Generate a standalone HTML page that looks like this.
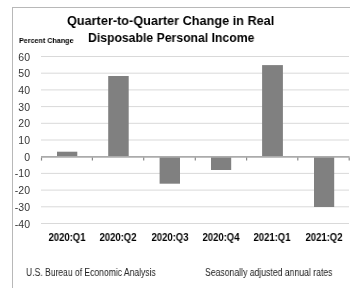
<!DOCTYPE html>
<html><head><meta charset="utf-8">
<style>
html,body{margin:0;padding:0;background:#fff;width:363px;height:304px;overflow:hidden;position:relative;font-family:"Liberation Sans",sans-serif;}
.t{position:absolute;white-space:nowrap;line-height:1;will-change:transform;transform-origin:0 0;}
#title1,#title2{font-weight:bold;font-size:13px;color:#000;}
#pc{font-weight:bold;font-size:8px;color:#000;}
.yl{font-size:10.5px;color:#363636;text-align:right;width:30px;}
.xl{font-weight:bold;font-size:10px;color:#000;text-align:center;width:60px;transform-origin:50% 0 !important;transform:scaleX(0.95);}
.ft{font-size:10px;color:#222;}
svg{position:absolute;left:0;top:0;}
</style></head><body>
<svg width="363" height="304" viewBox="0 0 363 304">
  <line x1="12" y1="7.5" x2="350" y2="7.5" stroke="#b8b8b8" stroke-width="1"/>
  <line x1="12.5" y1="7" x2="12.5" y2="288" stroke="#b8b8b8" stroke-width="1"/>
  <g stroke="#d9d9d9" stroke-width="1">
    <line x1="41" y1="56.5" x2="349" y2="56.5"/>
    <line x1="41" y1="73.2" x2="349" y2="73.2"/>
    <line x1="41" y1="89.9" x2="349" y2="89.9"/>
    <line x1="41" y1="106.6" x2="349" y2="106.6"/>
    <line x1="41" y1="123.3" x2="349" y2="123.3"/>
    <line x1="41" y1="140" x2="349" y2="140"/>
    <line x1="41" y1="173.4" x2="349" y2="173.4"/>
    <line x1="41" y1="190.1" x2="349" y2="190.1"/>
    <line x1="41" y1="206.8" x2="349" y2="206.8"/>
    <line x1="41" y1="223.5" x2="349" y2="223.5"/>
  </g>
  <g fill="#808080">
    <rect x="57" y="151.7" width="20.3" height="5"/>
    <rect x="108.2" y="76" width="20.5" height="80.7"/>
    <rect x="159.6" y="156.7" width="20.4" height="27"/>
    <rect x="211" y="156.7" width="20.2" height="13.3"/>
    <rect x="262.1" y="65.1" width="20.8" height="91.6"/>
    <rect x="314" y="156.7" width="20.2" height="50.3"/>
  </g>
  <line x1="41" y1="156.9" x2="349.6" y2="156.9" stroke="#ababab" stroke-width="1.6"/>
  <g stroke="#8a8a8a" stroke-width="1.2" fill="none">
    <line x1="41.5" y1="157.6" x2="41.5" y2="160.6"/>
    <line x1="92.4" y1="157.6" x2="92.4" y2="160.6"/>
    <line x1="143.7" y1="157.6" x2="143.7" y2="160.6"/>
    <line x1="195.3" y1="157.6" x2="195.3" y2="160.6"/>
    <line x1="246.6" y1="157.6" x2="246.6" y2="160.6"/>
    <line x1="297.8" y1="157.6" x2="297.8" y2="160.6"/>
    <line x1="349.2" y1="157.6" x2="349.2" y2="160.6"/>
  </g>
</svg>
<div class="t" id="title1" style="left:67px;top:14px;transform:scaleX(0.976);">Quarter-to-Quarter Change in Real</div>
<div class="t" id="title2" style="left:88px;top:31px;transform:scaleX(0.94);">Disposable Personal Income</div>
<div class="t" id="pc" style="left:19px;top:36.5px;transform:scaleX(0.895);">Percent Change</div>
<div class="t yl" style="left:0;top:51.5px;">60</div>
<div class="t yl" style="left:0;top:68.2px;">50</div>
<div class="t yl" style="left:0;top:84.9px;">40</div>
<div class="t yl" style="left:0;top:101.6px;">30</div>
<div class="t yl" style="left:0;top:118.3px;">20</div>
<div class="t yl" style="left:0;top:135.0px;">10</div>
<div class="t yl" style="left:0;top:151.7px;">0</div>
<div class="t yl" style="left:0;top:168.4px;">-10</div>
<div class="t yl" style="left:0;top:185.1px;">-20</div>
<div class="t yl" style="left:0;top:201.8px;">-30</div>
<div class="t yl" style="left:0;top:218.5px;">-40</div>
<div class="t xl" style="left:37.05px;top:232.5px;">2020:Q1</div>
<div class="t xl" style="left:88.05px;top:232.5px;">2020:Q2</div>
<div class="t xl" style="left:139.80px;top:232.5px;">2020:Q3</div>
<div class="t xl" style="left:191.40px;top:232.5px;">2020:Q4</div>
<div class="t xl" style="left:242.25px;top:232.5px;">2021:Q1</div>
<div class="t xl" style="left:294.10px;top:232.5px;">2021:Q2</div>
<div class="t ft" id="f1" style="left:26px;top:267.5px;transform:scaleX(0.855);">U.S. Bureau of Economic Analysis</div>
<div class="t ft" id="f2" style="left:205px;top:267.5px;transform:scaleX(0.865);">Seasonally adjusted annual rates</div>
</body></html>
